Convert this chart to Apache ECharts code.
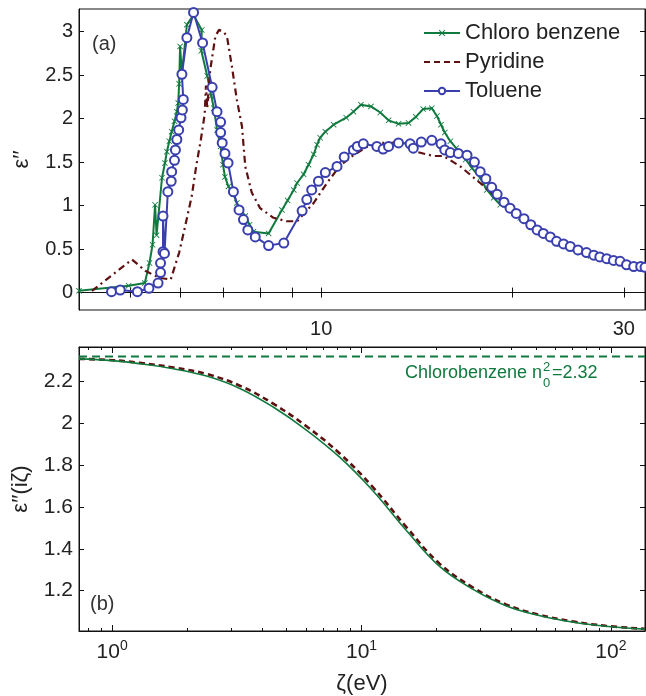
<!DOCTYPE html>
<html>
<head>
<meta charset="utf-8">
<script src="https://cdn.jsdelivr.net/npm/echarts@6/dist/echarts.min.js"></script>
<style>
html,body{margin:0;padding:0;background:#fff;}
#chart{width:646px;height:696px;}
</style>
</head>
<body>
<div id="chart"></div>
<script>
// ---------- Panel (a): imaginary part of dielectric function vs photon energy (eV) ----------
const chloroX = [4.15,4.97,5.27,5.36,5.42,5.47,5.50,5.61,5.67,5.71,5.76,5.81,5.87,5.92,5.95,5.97,5.99,6.03,6.14,6.29,6.48,6.47,6.61,6.71,6.77,6.85,6.94,7.00,7.05,7.14,7.27,7.36,7.47,7.59,7.71,7.82,8.26,8.67,8.85,9.05,9.16,9.38,9.55,9.73,9.85,9.96,10.15,10.46,10.95,11.24,11.55,11.98,12.39,12.77,13.24,13.73,14.10,14.48,14.94,15.22,15.45,15.66,15.98,16.32,16.90,17.29,17.81,18.25,18.70,19.16,19.85,20.6,21.4,22.2,23.0,23.8,24.7,25.6,26.6,27.5,28.6,29.6,30.7,31.9,32.4];
const chloroY = [0.02,0.08,0.11,0.34,0.55,1.01,0.66,1.32,1.49,1.62,1.74,1.85,1.97,2.08,2.18,2.40,2.83,2.52,3.08,3.19,3.02,2.78,2.49,2.26,2.12,1.87,1.68,1.47,1.33,1.22,1.13,1.03,0.95,0.88,0.78,0.70,0.68,0.95,1.06,1.18,1.26,1.36,1.47,1.59,1.70,1.78,1.85,1.93,2.01,2.08,2.16,2.14,2.07,1.98,1.94,1.95,2.02,2.11,2.12,2.03,1.93,1.84,1.74,1.66,1.53,1.43,1.32,1.18,1.09,1.01,0.95,0.86,0.77,0.69,0.62,0.56,0.51,0.46,0.42,0.39,0.36,0.34,0.31,0.28,0.27];

const pyridineX = [4.35,5.03,5.28,5.55,5.79,5.97,6.10,6.25,6.35,6.46,6.55,6.58,6.61,6.68,6.81,6.90,7.00,7.10,7.23,7.36,7.50,7.59,7.77,8.01,8.41,8.83,9.16,9.73,10.21,10.71,11.24,11.77,12.39,12.85,13.47,14.10,15.03,15.59,16.57,17.81,18.94,20.1,21.4,22.97,24.7,26.6,28.6,30.7,32.4];
const pyridineY = [0.02,0.38,0.25,0.17,0.15,0.46,0.76,1.11,1.45,1.76,2.05,2.38,2.12,2.55,2.95,3.02,3.00,2.95,2.60,2.22,1.91,1.45,1.15,0.97,0.86,0.82,0.82,1.03,1.26,1.46,1.58,1.67,1.72,1.72,1.74,1.62,1.57,1.57,1.45,1.26,1.09,0.93,0.78,0.63,0.52,0.43,0.37,0.32,0.28];

const tolueneX = [4.67,4.82,5.13,5.35,5.53,5.58,5.58,5.63,5.63,5.66,5.73,5.80,5.81,5.87,5.89,5.92,5.96,6.01,6.04,6.06,6.03,6.14,6.29,6.50,6.73,6.85,6.94,6.94,6.98,7.05,7.13,7.27,7.42,7.54,7.66,7.87,8.26,8.73,9.33,9.49,9.66,9.90,10.15,10.59,10.87,11.24,11.40,11.65,12.24,12.52,12.77,13.24,13.81,13.97,14.38,14.94,15.45,15.66,15.98,16.45,16.98,17.44,17.81,18.18,18.57,18.94,19.42,19.85,20.3,20.88,21.4,21.9,22.4,22.97,23.5,24.1,24.7,25.4,26.2,26.9,27.5,28.2,28.9,29.6,30.3,31.1,31.9,32.4];
const tolueneY = [0.01,0.03,0.01,0.05,0.11,0.23,0.34,0.47,0.88,0.45,1.16,1.28,1.39,1.52,1.64,1.76,1.87,2.01,2.10,2.22,2.51,2.93,3.22,2.87,2.36,2.08,1.96,1.84,1.72,1.60,1.49,1.16,0.95,0.84,0.72,0.64,0.54,0.57,0.94,1.07,1.18,1.28,1.38,1.45,1.56,1.64,1.68,1.71,1.68,1.65,1.68,1.72,1.71,1.66,1.73,1.75,1.71,1.64,1.61,1.60,1.58,1.50,1.39,1.31,1.21,1.13,1.04,0.97,0.91,0.85,0.78,0.72,0.68,0.64,0.59,0.56,0.53,0.49,0.46,0.43,0.41,0.39,0.37,0.36,0.32,0.30,0.30,0.29];

const topXTicks = [5,6,7,8,9,10,20,30];
const topXLabels = [10,30];
const topYTicks = [0,0.5,1,1.5,2,2.5,3];

// ---------- Panel (b): dielectric function at imaginary frequency ----------
const zeta = [0.736,1,1.29,1.76,2.39,3.25,4.42,6.01,8.17,11.1,15.1,20.5,27.9,37.9,51.5,70,95.2,137];
const chloroIm = [2.308,2.300,2.285,2.261,2.226,2.167,2.078,1.968,1.838,1.678,1.489,1.317,1.207,1.128,1.081,1.050,1.030,1.016];
const pyridineIm = [2.308,2.302,2.289,2.267,2.236,2.180,2.094,1.986,1.856,1.695,1.505,1.330,1.216,1.134,1.085,1.053,1.032,1.017];
const n0sq = 2.32;
const botXMajor = [1,10,100];
const botXMinor = [0.8,0.9,2,3,4,5,6,7,8,9,20,30,40,50,60,70,80,90];
const botYTicks = [1.2,1.4,1.6,1.8,2,2.2];

const GREEN = '#107a3e', RED = '#5e1010', BLUE = '#3a3fae';
const FONT = "'Liberation Sans', Arial, sans-serif";
const zip = (a, b) => a.map((v, i) => [v, b[i]]);
const XPATH = 'path://M1,0L5,4L9,0L10,1L6,5L10,9L9,10L5,6L1,10L0,9L4,5L0,1Z';

const chart = echarts.init(document.getElementById('chart'), null, {renderer: 'canvas'});

function tickAxis(extra) {
  return Object.assign({
    axisLine: {show: true, lineStyle: {color: '#111', width: 1}},
    axisTick: {show: true, inside: true, length: 5, lineStyle: {color: '#111', width: 1}},
    axisLabel: {show: false},
    splitLine: {show: false},
    minorTick: {show: false}
  }, extra);
}

const labelStyle = {color: '#222', fontSize: 20, fontFamily: FONT};

const option = {
  backgroundColor: '#fff',
  animation: false,
  textStyle: {fontFamily: FONT},
  grid: [
    {left: 79, right: 1, top: 9, height: 301, show: true, borderColor: '#111', borderWidth: 1},
    {left: 79, right: 1, top: 347, height: 289, show: true, borderColor: '#111', borderWidth: 1}
  ],
  legend: {
    orient: 'vertical', left: 418, top: 17, itemWidth: 36, itemHeight: 8, itemGap: 7,
    textStyle: {fontSize: 22, color: '#222', fontFamily: FONT, lineHeight: 22},
    data: [
      {name: 'Chloro benzene'},
      {name: 'Pyridine', lineStyle: {type: [6, 4], width: 2}, itemStyle: {opacity: 0}},
      {name: 'Toluene'}
    ]
  },
  xAxis: [
    tickAxis({gridIndex: 0, type: 'log', min: 4.15, max: 32.4, position: 'bottom',
      axisTick: {show: true, inside: true, length: 5, customValues: topXTicks, lineStyle: {color: '#111'}},
      axisLabel: {show: true, customValues: topXLabels, margin: 9, ...labelStyle, formatter: v => String(Math.round(v))}}),
    tickAxis({gridIndex: 0, type: 'log', min: 4.15, max: 32.4, position: 'top',
      axisTick: {show: true, inside: true, length: 5, customValues: topXTicks, lineStyle: {color: '#111'}}}),
    tickAxis({gridIndex: 1, type: 'log', min: 0.736, max: 137, position: 'bottom',
      name: 'ζ(eV)', nameLocation: 'middle', nameGap: 42,
      nameTextStyle: {fontSize: 22, color: '#222', fontFamily: FONT},
      axisTick: {show: true, inside: true, length: 6, customValues: botXMajor, lineStyle: {color: '#111'}},
      axisLabel: {show: true, customValues: botXMajor, margin: 8, color: '#222', fontFamily: FONT,
        formatter: v => '{b|10}{s|' + Math.round(Math.log10(v)) + '}',
        rich: {b: {fontSize: 21, color: '#222', fontFamily: FONT}, s: {fontSize: 14, color: '#222', fontFamily: FONT, padding: [0, 0, 13, 0]}}}}),
    tickAxis({gridIndex: 1, type: 'log', min: 0.736, max: 137, position: 'top',
      axisTick: {show: true, inside: true, length: 6, customValues: botXMajor, lineStyle: {color: '#111'}}}),
    tickAxis({gridIndex: 1, type: 'log', min: 0.736, max: 137, position: 'bottom',
      axisLine: {show: false},
      axisTick: {show: true, inside: true, length: 3, customValues: botXMinor, lineStyle: {color: '#111'}}}),
    tickAxis({gridIndex: 1, type: 'log', min: 0.736, max: 137, position: 'top',
      axisLine: {show: false},
      axisTick: {show: true, inside: true, length: 3, customValues: botXMinor, lineStyle: {color: '#111'}}})
  ],
  yAxis: [
    tickAxis({gridIndex: 0, type: 'value', min: -0.2, max: 3.26, position: 'left',
      name: 'ε′′', nameLocation: 'middle', nameGap: 46, nameRotate: 90,
      nameTextStyle: {fontSize: 22, color: '#222', fontFamily: FONT},
      axisTick: {show: true, inside: true, length: 5, customValues: topYTicks, lineStyle: {color: '#111'}},
      axisLabel: {show: true, customValues: topYTicks, margin: 6, ...labelStyle}}),
    tickAxis({gridIndex: 0, type: 'value', min: -0.2, max: 3.26, position: 'right',
      axisTick: {show: true, inside: true, length: 5, customValues: topYTicks, lineStyle: {color: '#111'}}}),
    tickAxis({gridIndex: 1, type: 'value', min: 1.007, max: 2.365, position: 'left',
      name: 'ε′′(iζ)', nameLocation: 'middle', nameGap: 47, nameRotate: 90,
      nameTextStyle: {fontSize: 22, color: '#222', fontFamily: FONT},
      axisTick: {show: true, inside: true, length: 5, customValues: botYTicks, lineStyle: {color: '#111'}},
      axisLabel: {show: true, customValues: botYTicks, margin: 6, ...labelStyle, fontSize: 21,
        formatter: v => String(+v.toFixed(1))}}),
    tickAxis({gridIndex: 1, type: 'value', min: 1.007, max: 2.365, position: 'right',
      axisTick: {show: true, inside: true, length: 5, customValues: botYTicks, lineStyle: {color: '#111'}}})
  ],
  series: [
    {name: 'Chloro benzene', type: 'line', xAxisIndex: 0, yAxisIndex: 0, data: zip(chloroX, chloroY),
      symbol: XPATH, symbolSize: 6, showAllSymbol: true, color: GREEN, itemStyle: {color: GREEN},
      lineStyle: {color: GREEN, width: 2}, z: 2},
    {name: 'Pyridine', type: 'line', xAxisIndex: 0, yAxisIndex: 0, data: zip(pyridineX, pyridineY),
      symbol: 'none', color: RED, itemStyle: {color: RED},
      lineStyle: {color: RED, width: 2.2, type: [7, 4, 2, 4]}, z: 3},
    {name: 'Toluene', type: 'line', xAxisIndex: 0, yAxisIndex: 0, data: zip(tolueneX, tolueneY),
      symbol: 'emptyCircle', symbolSize: 9, showAllSymbol: true, color: BLUE,
      itemStyle: {color: BLUE, borderColor: BLUE, borderWidth: 1.8},
      lineStyle: {color: BLUE, width: 2}, z: 4},
    {name: 'Pyridine (iζ)', type: 'line', xAxisIndex: 2, yAxisIndex: 2, data: zip(zeta, pyridineIm),
      symbol: 'none', smooth: 0.4, lineStyle: {color: RED, width: 2.6, type: [6, 4]}, z: 2},
    {name: 'Chloro benzene (iζ)', type: 'line', xAxisIndex: 2, yAxisIndex: 2, data: zip(zeta, chloroIm),
      symbol: 'none', smooth: 0.4, lineStyle: {color: GREEN, width: 1.6}, z: 3},
    {name: 'n0', type: 'line', xAxisIndex: 2, yAxisIndex: 2, data: [[0.736, n0sq], [137, n0sq]],
      symbol: 'none', lineStyle: {color: GREEN, width: 2, type: [8, 5]}, z: 3}
  ],
  graphic: [
    {type: 'text', left: 92, top: 34, style: {text: '(a)', fontSize: 20, fill: '#333', fontFamily: FONT}},
    {type: 'text', left: 90, top: 594, style: {text: '(b)', fontSize: 20, fill: '#333', fontFamily: FONT}},
    {type: 'text', x: 542, y: 373, style: {text: 'Chlorobenzene n', fontSize: 18, fill: GREEN, fontFamily: FONT, align: 'right', verticalAlign: 'middle'}},
    {type: 'text', x: 543, y: 367, style: {text: '2', fontSize: 13, fill: GREEN, fontFamily: FONT, align: 'left', verticalAlign: 'middle'}},
    {type: 'text', x: 543, y: 383, style: {text: '0', fontSize: 13, fill: GREEN, fontFamily: FONT, align: 'left', verticalAlign: 'middle'}},
    {type: 'text', x: 552, y: 373, style: {text: '=' + n0sq.toFixed(2), fontSize: 18, fill: GREEN, fontFamily: FONT, align: 'left', verticalAlign: 'middle'}}
  ]
};
chart.setOption(option);
</script>
</body>
</html>
